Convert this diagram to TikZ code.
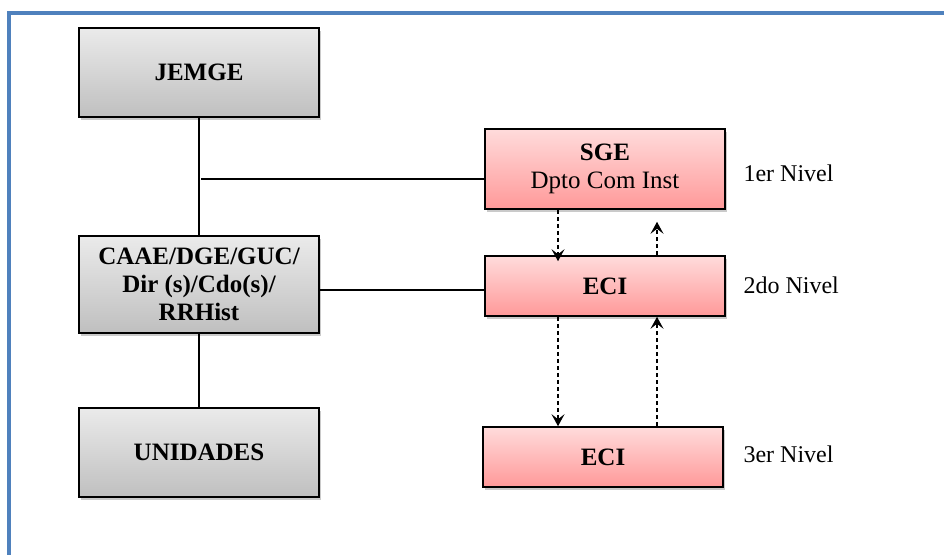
\documentclass[tikz,border=0pt]{standalone}
\usepackage{fontspec}
\setmainfont{Liberation Serif}
\usetikzlibrary{shadows,arrows.meta}
\definecolor{frameblue}{HTML}{4F81BD}
\tikzset{
  x=1pt, y=-1pt,
  box/.style={draw=black, line width=1.6pt, minimum width=240pt, align=center,
    font=\fontsize{25}{28}\selectfont, inner sep=0pt,
    drop shadow={shadow xshift=2pt, shadow yshift=-3pt, opacity=0.35, fill=black!60}},
  greybox/.style={box, top color=gray!16, bottom color=gray!50},
  pinkbox/.style={box, top color=red!14, bottom color=red!40},
  link/.style={line width=1.1pt},
  flow/.style={line width=1.4pt, dash pattern=on 4.5pt off 2.5pt,
    -{Stealth[length=12pt, width=13pt, inset=5pt]}},
  lvl/.style={anchor=west, font=\fontsize{24}{28}\selectfont}
}
\begin{document}
\begin{tikzpicture}
\useasboundingbox (0,0) rectangle (944,554);
% outer frame
\draw[frameblue, line width=4pt] (9,556) -- (9,13) -- (946,13);

% left column
\node[greybox, minimum height=89pt] (jemge) at (199,72.5) {\bfseries JEMGE};
\node[greybox, minimum height=97pt] (caae) at (199,284.5) {\bfseries CAAE/DGE/GUC/\\\bfseries Dir (s)/Cdo(s)/\\\bfseries RRHist};
\node[greybox, minimum height=89pt] (unid) at (199,452.5) {\bfseries UNIDADES};

% right column
\node[pinkbox, minimum height=80pt] (sge) at (605,169) {\bfseries SGE\\Dpto Com Inst};
\node[pinkbox, minimum height=60pt] (eci2) at (605,286) {\bfseries ECI};
\node[pinkbox, minimum height=60pt] (eci3) at (603,457) {\bfseries ECI};

% level labels
\node[lvl] (n1) at (740,173) {1er Nivel};
\node[lvl] (n2) at (740,285) {2do Nivel};
\node[lvl] (n3) at (740,454) {3er Nivel};

% solid hierarchy lines
\coordinate (tee) at (201,179);
\draw[link] (jemge.south) -- (caae.north);
\draw[link] (caae.south) -- (unid.north);
\draw[link] (tee) -- (sge.west |- tee);
\draw[link] (caae.east |- 0,290) -- (eci2.west |- 0,290);

% dashed information flows
\draw[flow] (sge.south -| 558,0) -- ([yshift=-6pt]eci2.north -| 558,0);
\draw[flow] (eci2.north -| 657,0) -- ([yshift=-12pt]sge.south -| 657,0);
\draw[flow] (eci2.south -| 558,0) -- (eci3.north -| 558,0);
\draw[flow] (eci3.north -| 657,0) -- (eci2.south -| 657,0);
\end{tikzpicture}
\end{document}
